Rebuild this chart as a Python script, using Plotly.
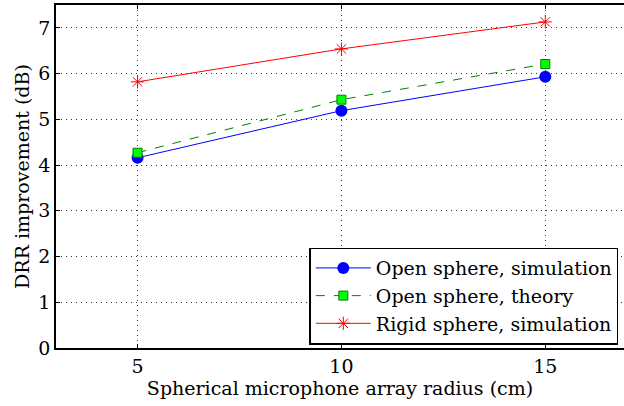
import plotly.graph_objects as go

radius = [5, 10, 15]
open_sim = [4.16, 5.19, 5.93]
open_theory = [4.27, 5.43, 6.21]
rigid_sim = [5.82, 6.54, 7.13]

x_ticks = [5, 10, 15]
y_ticks = [0, 1, 2, 3, 4, 5, 6, 7]

FONT = "DejaVu Serif"

fig = go.Figure()
fig.add_trace(go.Scatter(
    x=radius, y=open_sim, mode="lines+markers", name="Open sphere, simulation",
    line=dict(color="#0000ff", width=1),
    marker=dict(symbol="circle", size=12, color="#0000ff")))
fig.add_trace(go.Scatter(
    x=radius, y=open_theory, mode="lines+markers", name="Open sphere, theory",
    line=dict(color="#008000", width=1, dash="dash"),
    marker=dict(symbol="square", size=9, color="#00ff00",
                line=dict(color="#008000", width=1))))
fig.add_trace(go.Scatter(
    x=radius, y=rigid_sim, mode="lines+markers", name="Rigid sphere, simulation",
    line=dict(color="#ff0000", width=1),
    marker=dict(symbol="asterisk-open", size=11, color="#ff0000",
                line=dict(color="#ff0000", width=1))))

fig.update_layout(
    width=624, height=406,
    margin=dict(l=56, r=0, t=5, b=58),
    paper_bgcolor="white", plot_bgcolor="white",
    font=dict(family=FONT, size=19, color="black"),
    showlegend=True,
    legend=dict(x=0.99, y=0.01, xanchor="right", yanchor="bottom",
                bgcolor="white", bordercolor="black", borderwidth=1.5,
                font=dict(family=FONT, size=19), itemwidth=55,
                tracegroupgap=0),
)
fig.update_xaxes(
    range=[3, 16.93], tickvals=x_ticks, ticks="inside", ticklen=4,
    tickcolor="black", showline=True, linecolor="black", linewidth=1.5,
    mirror="ticks", showgrid=True, gridcolor="#333333", griddash="1px,4px",
    gridwidth=1, zeroline=False,
    title=dict(text="Spherical microphone array radius (cm)", standoff=2,
               font=dict(family=FONT, size=19)),
    tickfont=dict(family=FONT, size=19))
fig.update_yaxes(
    range=[0, 7.5], tickvals=y_ticks, ticks="inside", ticklen=4,
    tickcolor="black", showline=True, linecolor="black", linewidth=1.5,
    showgrid=True, gridcolor="#333333", griddash="1px,4px", gridwidth=1,
    zeroline=False,
    title=dict(text="DRR improvement (dB)", standoff=4,
               font=dict(family=FONT, size=19)),
    tickfont=dict(family=FONT, size=19))

fig.write_html("out.html", config={"displayModeBar": False},
               post_script="document.body.style.margin='0';document.body.style.overflow='hidden';")
